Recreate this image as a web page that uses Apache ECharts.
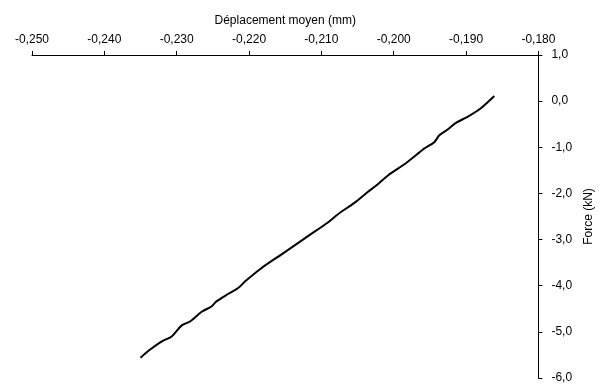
<!DOCTYPE html>
<html>
<head>
<meta charset="utf-8">
<script src="https://cdn.jsdelivr.net/npm/echarts@6/dist/echarts.min.js"></script>
<style>
html,body{margin:0;padding:0;background:#fff;}
#chart{width:603px;height:385px;}
</style>
</head>
<body>
<div id="chart"></div>
<script>
// Déplacement moyen (mm)
const displacement = [
  -0.2350, -0.2339, -0.2321, -0.2307, -0.2293, -0.2281, -0.2265, -0.2252,
  -0.2245, -0.2229, -0.2215, -0.2205, -0.2183, -0.2155,
  -0.2118, -0.2091, -0.2077, -0.2054, -0.2036, -0.2022, -0.2008, -0.1981,
  -0.1958, -0.1944, -0.1937, -0.1926, -0.1914, -0.1898, -0.1880, -0.1861
];
// Force (kN)
const force = [
  -5.56, -5.41, -5.21, -5.10, -4.86, -4.77, -4.56, -4.45,
  -4.34, -4.18, -4.05, -3.90, -3.62, -3.32,
  -2.92, -2.63, -2.45, -2.20, -1.97, -1.80, -1.61, -1.32,
  -1.03, -0.89, -0.74, -0.62, -0.47, -0.34, -0.16, 0.11
];
const xTitle = 'Déplacement moyen (mm)';
const yTitle = 'Force (kN)';

const fmt = (v, d) => v.toFixed(d).replace('.', ',');
const pts = displacement.map((x, i) => [x, force[i]]);
const FONT = 'Liberation Sans';

const chart = echarts.init(document.getElementById('chart'), null, {renderer: 'canvas'});
chart.setOption({
  animation: false,
  backgroundColor: '#ffffff',
  grid: {left: 32, right: 61.5, top: 55, bottom: 7, containLabel: false},
  xAxis: {
    type: 'value', position: 'top',
    min: -0.250, max: -0.180, interval: 0.010,
    name: xTitle, nameLocation: 'middle', nameGap: 28,
    nameTextStyle: {fontFamily: FONT, fontSize: 12, color: '#000'},
    axisLine: {onZero: false, lineStyle: {color: '#000', width: 1}},
    axisTick: {show: true, inside: false, length: 4, lineStyle: {color: '#000'}},
    axisLabel: {fontFamily: FONT, fontSize: 12, color: '#000', margin: 9,
      formatter: v => fmt(v, 3)},
    splitLine: {show: false}
  },
  yAxis: {
    type: 'value', position: 'right',
    min: -6, max: 1, interval: 1,
    name: yTitle, nameLocation: 'middle', nameGap: 37, nameRotate: 90,
    nameTextStyle: {fontFamily: FONT, fontSize: 12, color: '#000'},
    axisLine: {show: true, onZero: false, lineStyle: {color: '#000', width: 1}},
    axisTick: {show: true, inside: false, length: 4, lineStyle: {color: '#000'}},
    axisLabel: {fontFamily: FONT, fontSize: 12, color: '#000', margin: 13,
      formatter: v => fmt(v, 1)},
    splitLine: {show: false}
  },
  series: [{
    type: 'line', data: pts, showSymbol: false, smooth: 0.3,
    lineStyle: {color: '#000', width: 2}
  }]
});
</script>
</body>
</html>
